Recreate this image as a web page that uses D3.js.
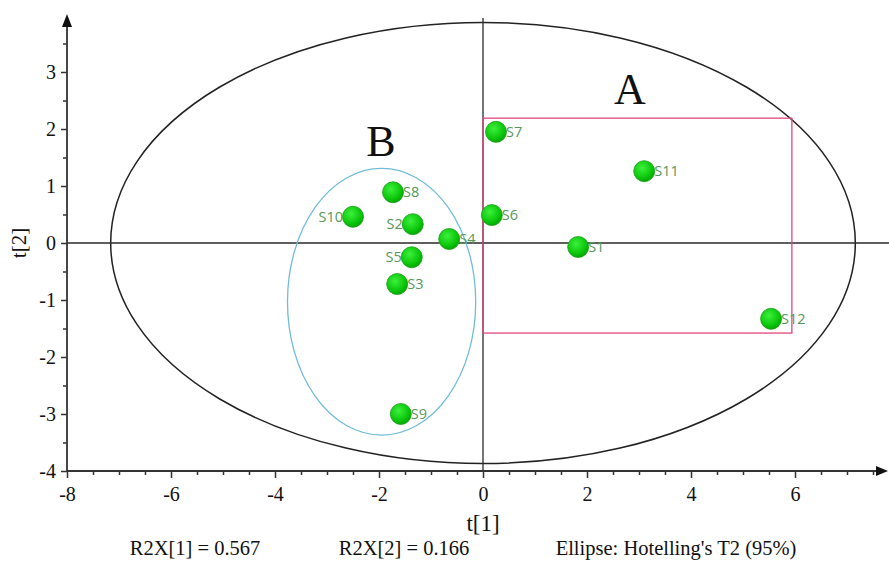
<!DOCTYPE html>
<html><head><meta charset="utf-8">
<script src="https://cdn.jsdelivr.net/npm/d3@7"></script>
<style>body{margin:0;background:#fff}svg{display:block}</style>
</head><body>
<svg id="c" width="889" height="562"></svg>
<script>
const samples = ["S1","S2","S3","S4","S5","S6","S7","S8","S9","S10","S11","S12"];
const t1 = [1.83,-1.35,-1.65,-0.65,-1.37,0.17,0.25,-1.73,-1.58,-2.50,3.10,5.54];
const t2 = [-0.07,0.33,-0.72,0.07,-0.25,0.49,1.95,0.89,-3.00,0.46,1.26,-1.33];
const labelSide = ["r","l","r","r","l","r","r","r","r","l","r","r"];
const xTicks = [-8,-6,-4,-2,0,2,4,6];
const yTicks = [-4,-3,-2,-1,0,1,2,3];
const hotelling = {cx:0, cy:0, rx:7.16, ry:3.87};
const groupB = {cx:-1.95, cy:-1.03, rx:1.81, ry:2.34};
const groupA = {x0:0, x1:5.94, y0:-1.58, y1:2.19};
const footer = ["R2X[1] = 0.567","R2X[2] = 0.166","Ellipse: Hotelling's T2 (95%)"];

const svg = d3.select("#c");
const x = d3.scaleLinear().domain([-8,7.5]).range([67,67+15.5*52]);
const y = d3.scaleLinear().domain([-4,3.5]).range([471,471-7.5*57]);
const serif = "'Liberation Serif','Times New Roman',serif";

const defs = svg.append("defs");
const g = defs.append("radialGradient").attr("id","pg").attr("cx","40%").attr("cy","35%").attr("r","65%");
g.append("stop").attr("offset","0%").attr("stop-color","#3df03d");
g.append("stop").attr("offset","70%").attr("stop-color","#0cc80c");
g.append("stop").attr("offset","100%").attr("stop-color","#05a805");

// Hotelling ellipse
svg.append("ellipse").attr("cx",x(hotelling.cx)).attr("cy",y(hotelling.cy))
  .attr("rx",x(hotelling.rx)-x(0)).attr("ry",y(0)-y(hotelling.ry))
  .attr("fill","none").attr("stroke","#222").attr("stroke-width",1.5);

// zero lines
svg.append("line").attr("x1",x(-8)).attr("x2",889).attr("y1",y(0)).attr("y2",y(0)).attr("stroke","#2a2a2a").attr("stroke-width",1.3);
svg.append("line").attr("x1",x(0)).attr("x2",x(0)).attr("y1",y(-4)).attr("y2",18).attr("stroke","#2a2a2a").attr("stroke-width",1.3);

// group A rectangle
svg.append("rect").attr("x",x(groupA.x0)).attr("y",y(groupA.y1))
  .attr("width",x(groupA.x1)-x(groupA.x0)).attr("height",y(groupA.y0)-y(groupA.y1))
  .attr("fill","none").attr("stroke","#e2477c").attr("stroke-width",1.3);

// group B ellipse
svg.append("ellipse").attr("cx",x(groupB.cx)).attr("cy",y(groupB.cy))
  .attr("rx",x(groupB.rx)-x(0)).attr("ry",y(0)-y(groupB.ry))
  .attr("fill","none").attr("stroke","#72bcd8").attr("stroke-width",1.3);

// axes
const xAxis = d3.axisBottom(x).tickValues(d3.range(-8,7.51,0.5))
  .tickFormat(d => xTicks.includes(d) ? d : "").tickSize(6).tickSizeOuter(0);
const xa = svg.append("g").attr("transform",`translate(0,${y(-4)})`).call(xAxis);
xa.select(".domain").remove();
xa.selectAll(".tick line").attr("stroke","#333").attr("stroke-width",1.5)
  .attr("y2", d => Number.isInteger(d) && d%2===0 ? 7 : 4);
xa.selectAll(".tick text").attr("font-family",serif).attr("font-size",20).attr("fill","#111").attr("dy","1.05em");
svg.append("line").attr("x1",x(-8)).attr("x2",880).attr("y1",y(-4)).attr("y2",y(-4)).attr("stroke","#333").attr("stroke-width",1.8);
svg.append("path").attr("d",`M888,${y(-4)} L876,${y(-4)-5} L876,${y(-4)+5} Z`).attr("fill","#111");

const yAxis = d3.axisLeft(y).tickValues(d3.range(-4,3.51,0.5))
  .tickFormat(d => yTicks.includes(d) ? d : "").tickSize(6).tickSizeOuter(0);
const ya = svg.append("g").attr("transform",`translate(${x(-8)},0)`).call(yAxis);
ya.select(".domain").remove();
ya.selectAll(".tick line").attr("stroke","#333").attr("stroke-width",1.5)
  .attr("x2", d => Number.isInteger(d) ? -6 : -4);
ya.selectAll(".tick text").attr("font-family",serif).attr("font-size",20).attr("fill","#111").attr("dx","-0.1em");
svg.append("line").attr("x1",x(-8)).attr("x2",x(-8)).attr("y1",y(-4)).attr("y2",24).attr("stroke","#333").attr("stroke-width",1.8);
svg.append("path").attr("d",`M${x(-8)},14 L${x(-8)-5},27 L${x(-8)+5},27 Z`).attr("fill","#111");

// axis titles
svg.append("text").attr("x",x(0)).attr("y",531).attr("text-anchor","middle")
  .attr("font-family",serif).attr("font-size",23).attr("fill","#111").text("t[1]");
svg.append("text").attr("transform",`translate(26,${y(0)}) rotate(-90)`).attr("text-anchor","middle")
  .attr("font-family",serif).attr("font-size",21).attr("fill","#111").text("t[2]");

// footer
const fx = [195,404,676];
footer.forEach((t,i)=>svg.append("text").attr("x",fx[i]).attr("y",555).attr("text-anchor","middle")
  .attr("font-family",serif).attr("font-size",20.5).attr("fill","#111").text(t));

// group letters
svg.append("text").attr("x",630).attr("y",104).attr("text-anchor","middle")
  .attr("font-family",serif).attr("font-size",44).attr("fill","#111").text("A");
svg.append("text").attr("x",381).attr("y",156).attr("text-anchor","middle")
  .attr("font-family",serif).attr("font-size",44).attr("fill","#111").text("B");

// points
const data = samples.map((s,i)=>({s, x:t1[i], y:t2[i], side:labelSide[i]}));
svg.selectAll("circle.pt").data(data).join("circle").attr("class","pt")
  .attr("cx",d=>x(d.x)).attr("cy",d=>y(d.y)).attr("r",10.5)
  .attr("fill","url(#pg)").attr("stroke","#18a018").attr("stroke-width",0.8);
svg.selectAll("text.lb").data(data).join("text").attr("class","lb")
  .attr("x",d=>d.side==="r" ? x(d.x)+10 : x(d.x)-10)
  .attr("y",d=>y(d.y)+5)
  .attr("text-anchor",d=>d.side==="r"?"start":"end")
  .attr("font-family","'Open Sans','DejaVu Sans',sans-serif").attr("font-size",14.5)
  .attr("fill","#55985a").text(d=>d.s);
</script>
</body></html>
